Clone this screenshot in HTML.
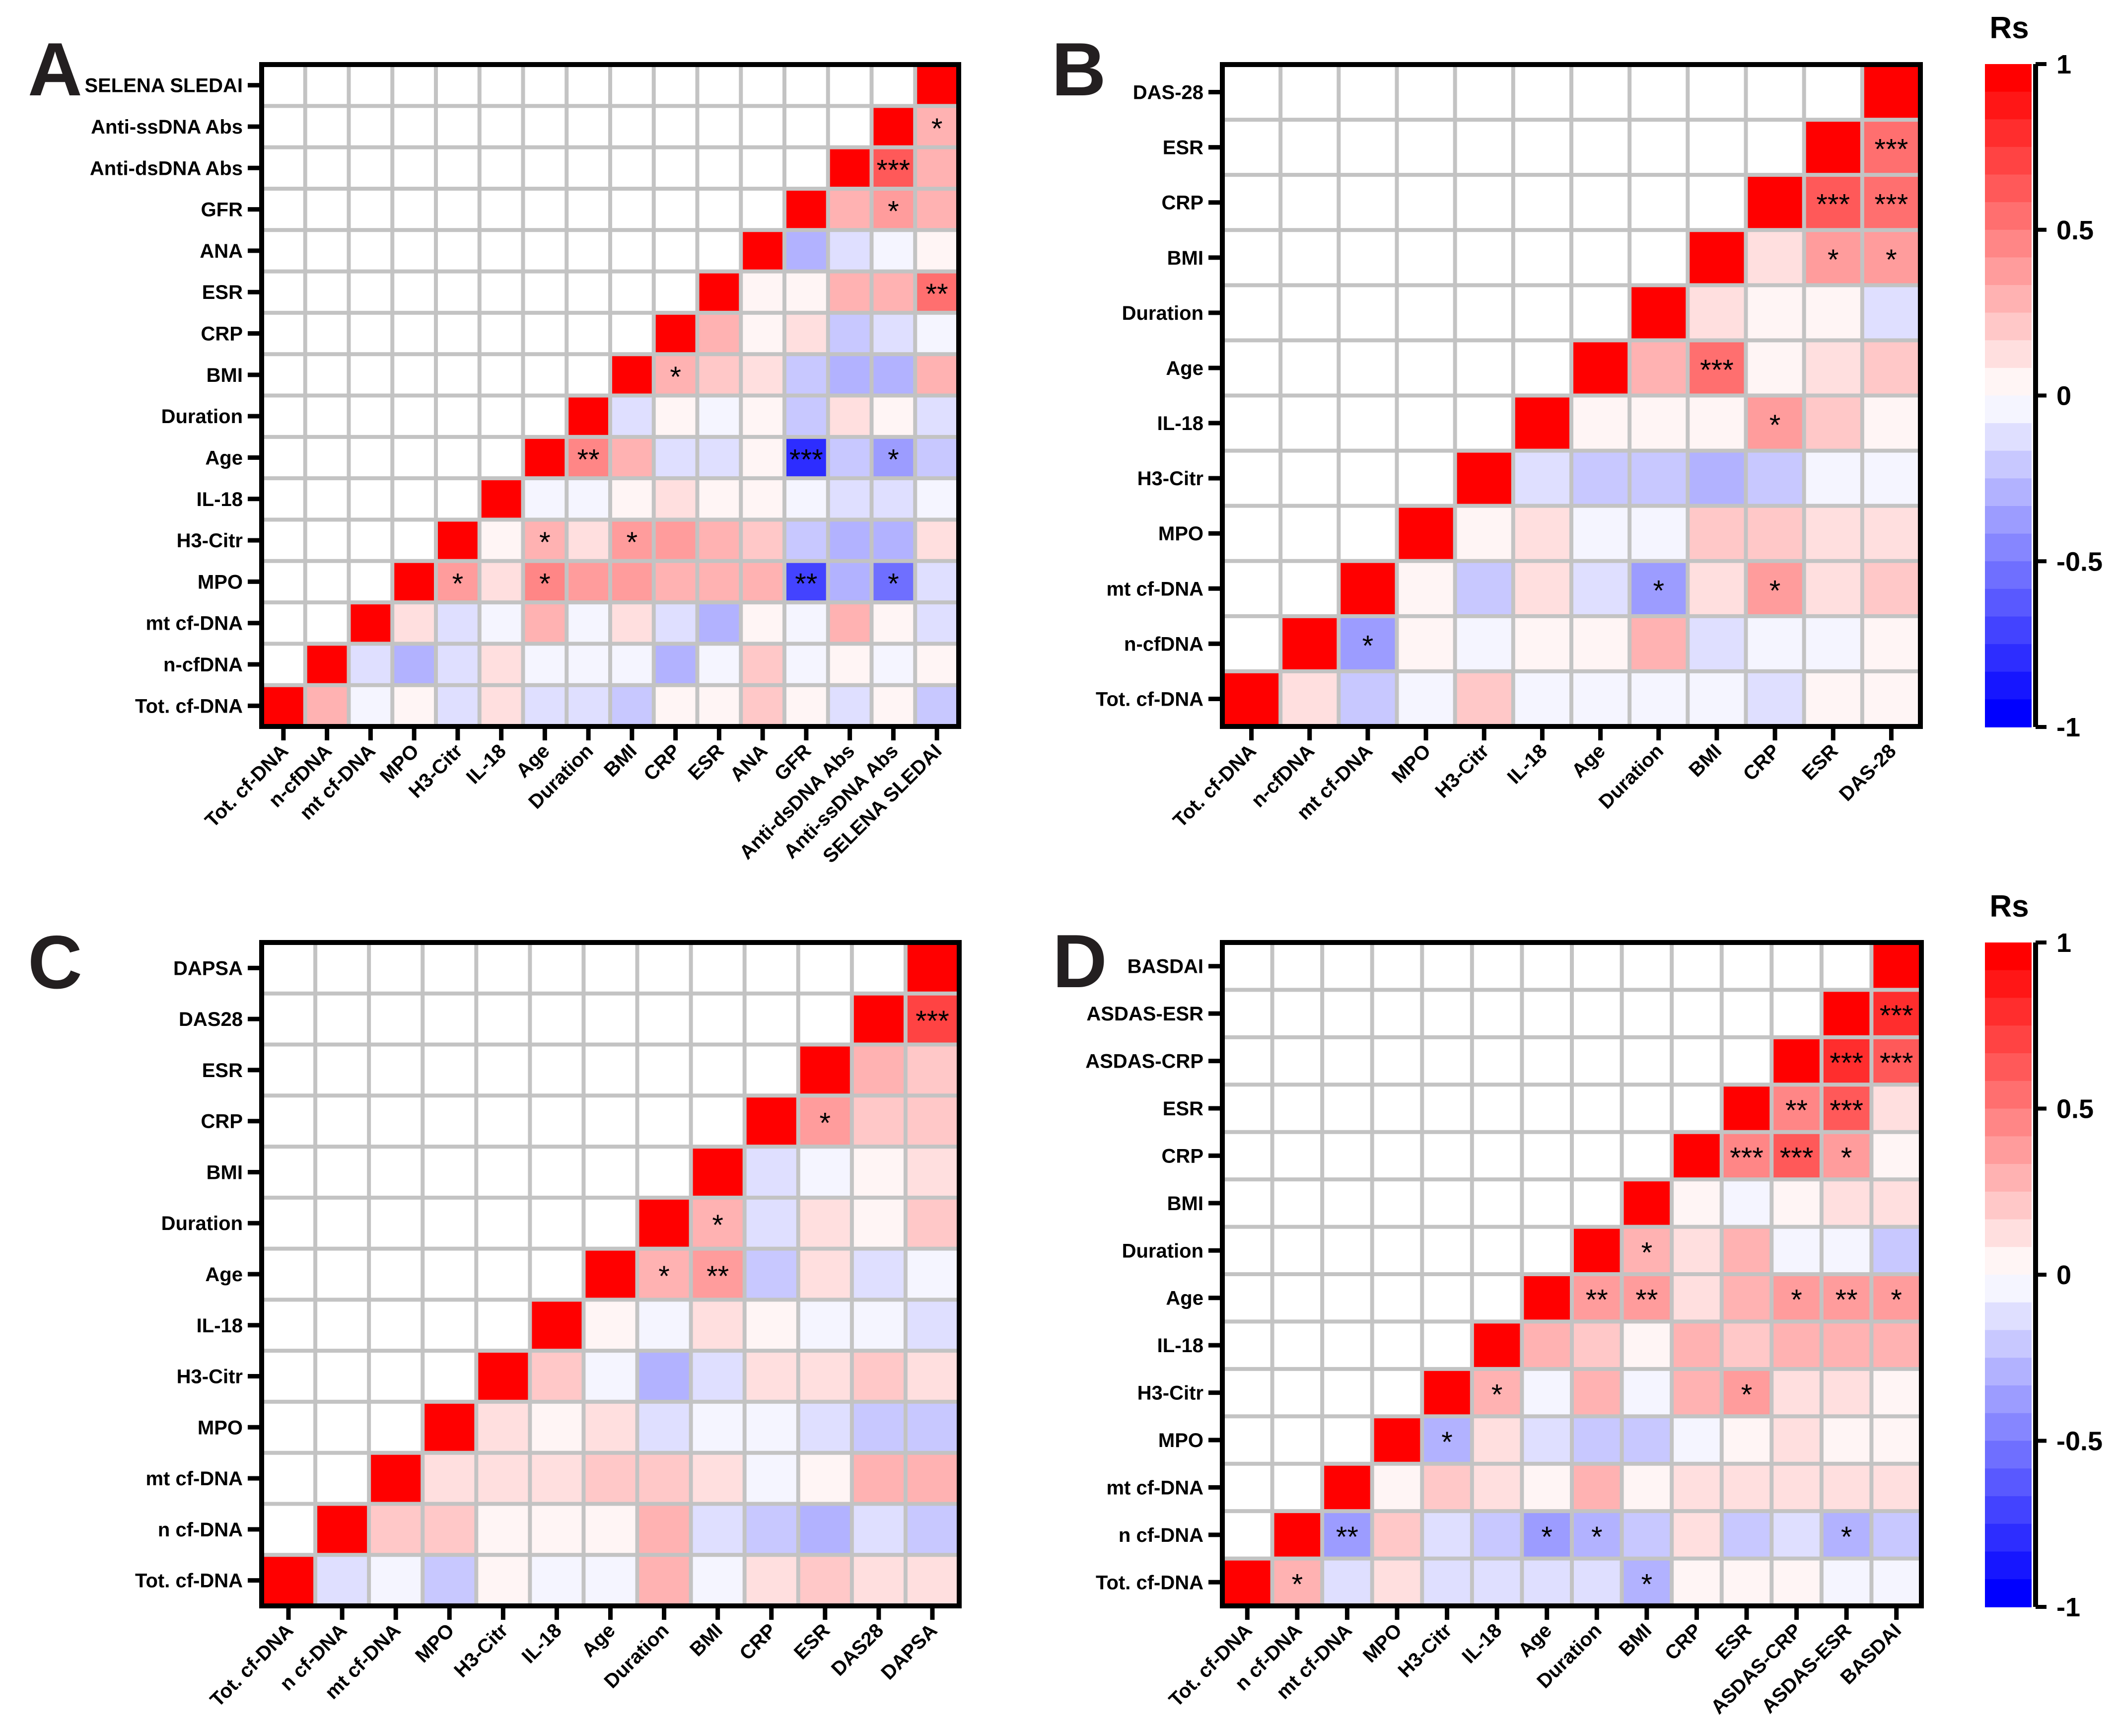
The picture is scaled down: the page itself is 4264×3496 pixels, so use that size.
<!DOCTYPE html>
<html><head><meta charset="utf-8"><style>
html,body{margin:0;padding:0;background:#fff;}
svg{display:block;font-family:"Liberation Sans",Arial,sans-serif;}
</style></head><body>
<svg id="fig" xmlns="http://www.w3.org/2000/svg" width="4264" height="3496" viewBox="0 0 4264 3496">
<rect x="0" y="0" width="4264" height="3496" fill="#fff"/>
</svg>
<script>
// ---- Panel A data ----
const labelsA = ["Tot. cf-DNA","n-cfDNA","mt cf-DNA","MPO","H3-Citr","IL-18","Age","Duration","BMI","CRP","ESR","ANA","GFR","Anti-dsDNA Abs","Anti-ssDNA Abs","SELENA SLEDAI"];
const valsA = [
 [0.3,-0.05,0.05,-0.15,0.15,-0.15,-0.15,-0.2,0.05,0.05,0.2,0.05,-0.15,0.05,-0.2],
 [-0.15,-0.25,-0.15,0.15,-0.05,-0.05,-0.05,-0.3,-0.05,0.2,-0.05,0.05,-0.05,0.05],
 [0.15,-0.15,-0.05,0.25,-0.05,0.15,-0.15,-0.3,0.05,-0.05,0.25,0.05,-0.15],
 [0.35,0.15,0.45,0.4,0.35,0.3,0.25,0.25,-0.7,-0.3,-0.5,-0.15],
 [0.05,0.3,0.15,0.4,0.35,0.3,0.2,-0.2,-0.3,-0.3,0.15],
 [-0.05,-0.05,0.05,0.15,0.05,0.05,-0.05,-0.15,-0.15,-0.05],
 [0.45,0.25,-0.15,-0.15,0.05,-0.75,-0.2,-0.4,-0.2],
 [-0.15,0.05,-0.05,0.05,-0.2,0.15,0.05,-0.15],
 [0.3,0.2,0.15,-0.2,-0.3,-0.3,0.25],
 [0.25,0.05,0.15,-0.2,-0.15,-0.05],
 [0.05,0.05,0.3,0.3,0.5],
 [-0.3,-0.15,-0.05,0.05],
 [0.3,0.35,0.25],
 [0.6,0.3],
 [0.3],
 []
];
const sigA = [[14,15,"*"],[13,14,"***"],[12,14,"*"],[10,15,"**"],[8,9,"*"],[6,7,"**"],[6,12,"***"],[6,14,"*"],[4,6,"*"],[4,8,"*"],[3,4,"*"],[3,6,"*"],[3,12,"**"],[3,14,"*"]];

// ---- Panel B data ----
const labelsB = ["Tot. cf-DNA","n-cfDNA","mt cf-DNA","MPO","H3-Citr","IL-18","Age","Duration","BMI","CRP","ESR","DAS-28"];
const valsB = [
 [0.15,-0.2,-0.05,0.2,-0.05,-0.05,-0.05,-0.05,-0.15,0.05,0.05],
 [-0.4,0.05,-0.05,0.05,0.05,0.3,-0.15,-0.05,-0.05,0.05],
 [0.05,-0.2,0.15,-0.15,-0.4,0.15,0.4,0.15,0.2],
 [0.05,0.15,-0.05,-0.05,0.2,0.2,0.15,0.15],
 [-0.15,-0.2,-0.2,-0.3,-0.2,-0.05,-0.05],
 [0.05,0.05,0.05,0.4,0.2,0.05],
 [0.25,0.55,0.05,0.15,0.2],
 [0.15,0.05,0.05,-0.15],
 [0.15,0.4,0.4],
 [0.65,0.55],
 [0.55],
 []
];
const sigB = [[10,11,"***"],[9,10,"***"],[9,11,"***"],[8,10,"*"],[8,11,"*"],[6,8,"***"],[5,9,"*"],[2,7,"*"],[2,9,"*"],[1,2,"*"]];

// ---- Panel C data ----
const labelsC = ["Tot. cf-DNA","n cf-DNA","mt cf-DNA","MPO","H3-Citr","IL-18","Age","Duration","BMI","CRP","ESR","DAS28","DAPSA"];
const valsC = [
 [-0.15,-0.05,-0.2,0.05,-0.05,-0.05,0.3,-0.05,0.15,0.2,0.15,0.15],
 [0.2,0.2,0.05,0.05,0.05,0.3,-0.15,-0.2,-0.3,-0.15,-0.2],
 [0.15,0.15,0.15,0.2,0.2,0.15,-0.05,0.05,0.3,0.25],
 [0.15,0.05,0.15,-0.15,-0.05,-0.05,-0.15,-0.2,-0.2],
 [0.2,-0.05,-0.3,-0.15,0.15,0.15,0.2,0.15],
 [0.05,-0.05,0.15,0.05,-0.05,-0.05,-0.15],
 [0.3,0.35,-0.2,0.15,-0.15,-0.05],
 [0.3,-0.15,0.15,0.05,0.2],
 [-0.15,-0.05,0.05,0.15],
 [0.35,0.2,0.2],
 [0.3,0.2],
 [0.7],
 []
];
const sigC = [[11,12,"***"],[9,10,"*"],[7,8,"*"],[6,7,"*"],[6,8,"**"]];

// ---- Panel D data ----
const labelsD = ["Tot. cf-DNA","n cf-DNA","mt cf-DNA","MPO","H3-Citr","IL-18","Age","Duration","BMI","CRP","ESR","ASDAS-CRP","ASDAS-ESR","BASDAI"];
const valsD = [
 [0.3,-0.15,0.15,-0.15,-0.15,-0.15,-0.15,-0.3,0.05,0.05,0.05,-0.05,-0.05],
 [-0.4,0.2,-0.15,-0.2,-0.4,-0.3,-0.2,0.15,-0.2,-0.15,-0.3,-0.2],
 [0.05,0.2,0.15,0.05,0.25,0.05,0.15,0.15,0.15,0.15,0.15],
 [-0.3,0.15,-0.15,-0.2,-0.2,-0.05,0.05,0.15,0.05,0.05],
 [0.3,-0.05,0.3,-0.05,0.25,0.35,0.15,0.15,0.05],
 [0.3,0.2,0.05,0.25,0.2,0.25,0.25,0.25],
 [0.4,0.4,0.15,0.25,0.35,0.4,0.35],
 [0.3,0.15,0.25,-0.05,-0.05,-0.2],
 [0.05,-0.05,0.05,0.15,0.15],
 [0.45,0.6,0.4,0.05],
 [0.45,0.6,0.15],
 [0.75,0.6],
 [0.75],
 []
];
const sigD = [[12,13,"***"],[11,12,"***"],[11,13,"***"],[10,11,"**"],[10,12,"***"],[9,10,"***"],[9,11,"***"],[9,12,"*"],[7,8,"*"],[6,7,"**"],[6,8,"**"],[6,11,"*"],[6,12,"**"],[6,13,"*"],[4,5,"*"],[4,10,"*"],[3,4,"*"],[1,2,"**"],[1,6,"*"],[1,7,"*"],[1,12,"*"],[0,1,"*"],[0,8,"*"]];

// ---- Colorbar ticks ----
const cbTicks = [1,0.5,0,-0.5,-1];
const cbTickLabels = ["1","0.5","0","-0.5","-1"];

const NS = "http://www.w3.org/2000/svg";
const svg = document.getElementById("fig");
function mk(tag, attrs, parent){
  const e = document.createElementNS(NS, tag);
  for (const k in attrs) e.setAttribute(k, attrs[k]);
  (parent||svg).appendChild(e);
  return e;
}
function colorFor(v){
  if (v >= 0.999) return "rgb(255,0,0)";
  if (v <= -0.999) return "rgb(0,0,255)";
  const k = Math.min(11, Math.floor(Math.abs(v)*12));
  const t = Math.min(1, (k+0.45)/11.45);
  const c = Math.round(255*(1-t));
  return v >= 0 ? `rgb(255,${c},${c})` : `rgb(${c},${c},255)`;
}

function panel(id, letter, letterX, letterY, labels, vals, sig, gx0, gy0, gx1, gy1){
  const g = mk("g", {});
  
  
  const n = labels.length;
  const cw = (gx1-gx0)/n, ch = (gy1-gy0)/n;
  const xs = j => gx0 + j*cw;
  const ys = i => gy1 - (i+1)*ch;
  const L = mk("text", {x:letterX, y:letterY, "font-size":152, "font-weight":"bold", fill:"#231f20"}, g);
  L.textContent = letter;
  
  
  mk("rect", {x:gx0, y:gy0, width:gx1-gx0, height:gy1-gy0, fill:"#fff"}, g);
  for (let i=0;i<n;i++){
    const c = mk("rect", {x:xs(i), y:ys(i), width:cw, height:ch, fill:colorFor(1)}, g);
    
    
    for (let k=0;k<vals[i].length;k++){
      const j = i+1+k;
      const r = mk("rect", {x:xs(j), y:ys(i), width:cw, height:ch, fill:colorFor(vals[i][k])}, g);
      
      
    }
  }
  for (let k=1;k<n;k++){
    mk("line", {x1:xs(k), y1:gy0, x2:xs(k), y2:gy1, stroke:"#c3c3c3", "stroke-width":8}, g);
    mk("line", {x1:gx0, y1:gy0+k*ch, x2:gx1, y2:gy0+k*ch, stroke:"#c3c3c3", "stroke-width":8}, g);
  }
  mk("rect", {x:gx0, y:gy0, width:gx1-gx0, height:gy1-gy0, fill:"none", stroke:"#000", "stroke-width":10}, g);
  for (const s of sig){
    const t = mk("text", {x:xs(s[1])+cw/2, y:ys(s[0])+ch/2+24, "font-size":58, "text-anchor":"middle", fill:"#000"}, g);
    t.textContent = s[2];
    
    
  }
  for (let i=0;i<n;i++){
    const cy = ys(i)+ch/2;
    mk("line", {x1:gx0-28, y1:cy, x2:gx0, y2:cy, stroke:"#000", "stroke-width":9}, g);
    const t = mk("text", {x:gx0-38, y:cy+14, "font-size":40, "font-weight":"bold", "text-anchor":"end", fill:"#000"}, g);
    t.textContent = labels[i];
    
    
    const cx = xs(i)+cw/2;
    mk("line", {x1:cx, y1:gy1, x2:cx, y2:gy1+28, stroke:"#000", "stroke-width":9}, g);
    const ax = cx+12, ay = gy1+52;
    const u = mk("text", {x:ax, y:ay, "font-size":40, "font-weight":"bold", "text-anchor":"end", fill:"#000", transform:`rotate(-45 ${ax} ${ay})`}, g);
    u.textContent = labels[i];
    
    
  }
}

function colorbar(id, x0, y0, x1, y1){
  const g = mk("g", {});
  
  
  const bands = 24, bh = (y1-y0)/bands;
  const vy = v => y0 + (1-v)/2*(y1-y0);
  for (let b=0;b<bands;b++){
    const v = 1 - (b+0.5)*(2/bands);
    mk("rect", {x:x0, y:y0+b*bh, width:x1-x0, height:bh+0.8, fill:colorFor(v)}, g);
  }
  mk("line", {x1:x1+8, y1:y0, x2:x1+8, y2:y1, stroke:"#000", "stroke-width":10}, g);
  for (let k=0;k<cbTicks.length;k++){
    const y = vy(cbTicks[k]);
    mk("line", {x1:x1+8, y1:y, x2:x1+30, y2:y, stroke:"#000", "stroke-width":8}, g);
    const t = mk("text", {x:x1+50, y:y+19, "font-size":54, "font-weight":"bold", fill:"#000"}, g);
    t.textContent = cbTickLabels[k];
    
    
  }
  const r = mk("text", {x:(x0+x1)/2+2, y:y0-52, "font-size":62, "font-weight":"bold", "text-anchor":"middle", fill:"#000"}, g);
  r.textContent = "Rs";
  
  
}

panel("a","A",56,192,labelsA,valsA,sigA,527,130,1931,1463);
panel("b","B",2118,192,labelsB,valsB,sigB,2462,130,3868,1463);
panel("c","C",56,1990,labelsC,valsC,sigC,527,1898,1932,3234);
panel("d","D",2120,1988,labelsD,valsD,sigD,2462,1898,3870,3234);
colorbar("top",3998,129,4092,1464);
colorbar("bottom",3998,1898,4092,3236);
</script>
</body></html>
